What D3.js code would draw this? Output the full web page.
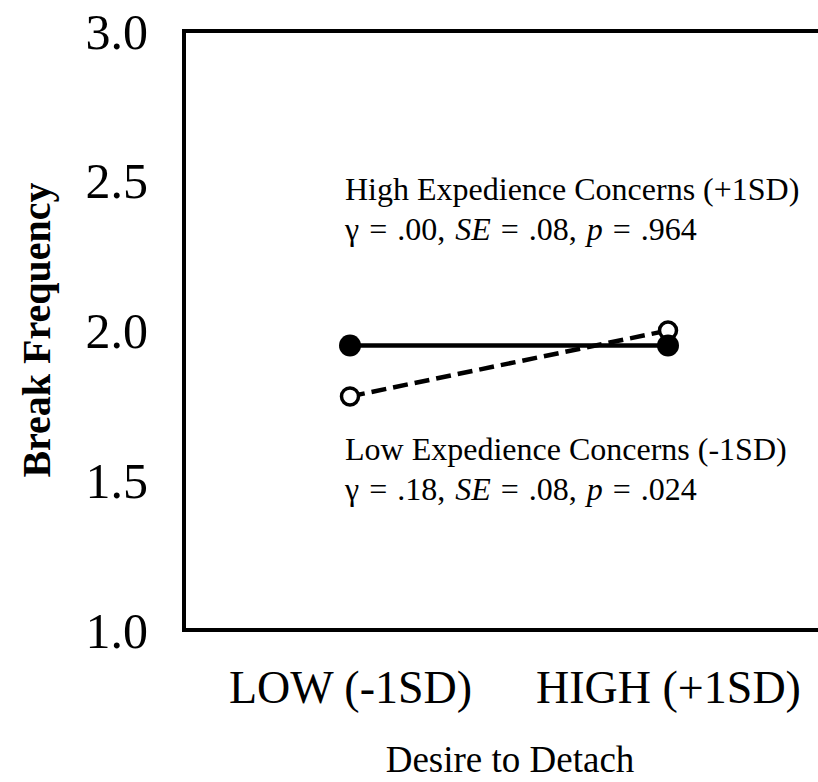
<html>
<head>
<script src="https://d3js.org/d3.v7.min.js"></script>
<style>
  body { margin: 0; background: #fff; }
  text { font-family: "Liberation Serif", "Times New Roman", serif; fill: #000; }
</style>
</head>
<body>
<svg id="chart" width="818" height="782"></svg>
<script>
// data
var categories = ["LOW (-1SD)", "HIGH (+1SD)"];
var highConcern = [1.95, 1.95];   // solid line, filled dots
var lowConcern = [1.78, 2.00];    // dashed line, open dots
var yTicks = [1.0, 1.5, 2.0, 2.5, 3.0];

var svg = d3.select("#chart");

// frame edges (the right one runs off the page)
var frameL = 184, frameR = 830, frameT = 31, frameB = 630;

var x = d3.scalePoint()
  .domain(categories)
  .range([350, 668]);

var y = d3.scaleLinear()
  .domain([1, 3])
  .range([frameB, frameT]);

svg.append("rect")
  .attr("x", frameL).attr("y", frameT)
  .attr("width", frameR - frameL).attr("height", frameB - frameT)
  .attr("fill", "none").attr("stroke", "#000").attr("stroke-width", 4);

// y axis labels
var yAxis = d3.axisLeft(y).tickValues(yTicks).tickFormat(d3.format(".1f")).tickSize(0).tickPadding(36);
var gy = svg.append("g").attr("transform", "translate(" + frameL + ",0)").call(yAxis);
gy.select(".domain").remove();
gy.attr("font-size", null).attr("font-family", null);
gy.selectAll("text").attr("dy", "0.34em")
  .style("font-size", "50px").style("font-family", "Liberation Serif");

// x axis labels
var xAxis = d3.axisBottom(x).tickSize(0).tickPadding(0);
var gx = svg.append("g").attr("transform", "translate(0," + frameB + ")").call(xAxis);
gx.select(".domain").remove();
gx.attr("font-size", null).attr("font-family", null);
gx.selectAll("text").attr("y", 73).attr("dy", null)
  .style("font-size", "46px").style("font-family", "Liberation Serif");

svg.append("text")
  .attr("x", 510).attr("y", 772)
  .attr("text-anchor", "middle")
  .style("font-size", "37px")
  .text("Desire to Detach");

svg.append("text")
  .attr("transform", "translate(50,330) rotate(-90)")
  .attr("text-anchor", "middle")
  .style("font-size", "40px").style("font-weight", "bold")
  .text("Break Frequency");

var line = d3.line()
  .x(function(d, i) { return x(categories[i]); })
  .y(function(d) { return y(d); });

svg.append("path").datum(lowConcern)
  .attr("d", line).attr("fill", "none")
  .attr("stroke", "#000").attr("stroke-width", 4.5)
  .attr("stroke-dasharray", "15,7");

svg.append("path").datum(highConcern)
  .attr("d", line).attr("fill", "none")
  .attr("stroke", "#000").attr("stroke-width", 4.5);

svg.selectAll(".dot-low").data(lowConcern).enter().append("circle")
  .attr("cx", function(d, i) { return x(categories[i]); })
  .attr("cy", function(d) { return y(d); })
  .attr("r", 8.5).attr("fill", "#fff")
  .attr("stroke", "#000").attr("stroke-width", 3.5);

svg.selectAll(".dot-high").data(highConcern).enter().append("circle")
  .attr("cx", function(d, i) { return x(categories[i]); })
  .attr("cy", function(d) { return y(d); })
  .attr("r", 11).attr("fill", "#000");

// annotations
function note(yPos, label, stats) {
  svg.append("text").attr("x", 345).attr("y", yPos)
    .style("font-size", "32px").text(label);
  var t = svg.append("text").attr("x", 345).attr("y", yPos + 40)
    .style("font-size", "32px").style("word-spacing", "2px");
  t.append("tspan").text("\u03b3 = " + stats[0] + ", ");
  t.append("tspan").style("font-style", "italic").text("SE");
  t.append("tspan").text(" = " + stats[1] + ", ");
  t.append("tspan").style("font-style", "italic").text("p");
  t.append("tspan").text(" = " + stats[2]);
}
note(200, "High Expedience Concerns (+1SD)", [".00", ".08", ".964"]);
note(460, "Low Expedience Concerns (-1SD)", [".18", ".08", ".024"]);
</script>
</body>
</html>
